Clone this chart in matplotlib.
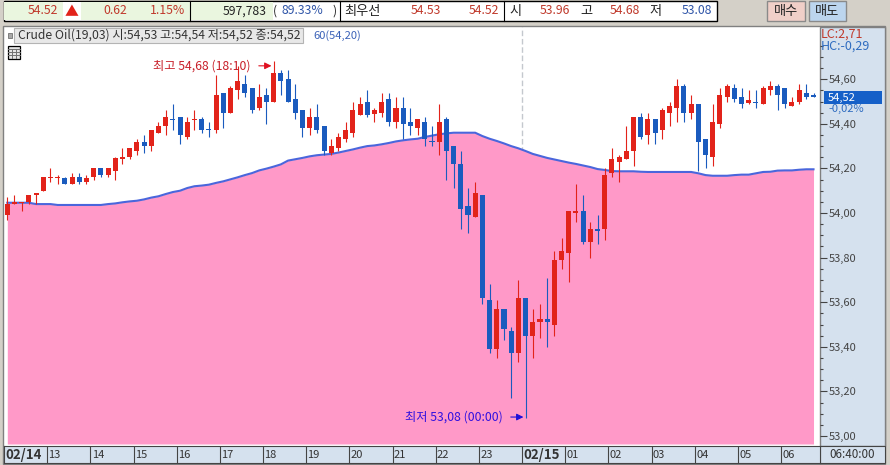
import matplotlib
matplotlib.use('Agg')
import matplotlib.pyplot as plt
from matplotlib.patches import Rectangle
import numpy as np

plt.rcParams['font.family'] = ['Noto Sans CJK KR', 'DejaVu Sans']
plt.rcParams['font.size'] = 8

opens = [53.99,54.04,54.045,54.05,54.08,54.10,54.155,54.155,54.155,54.13,54.16,54.14,54.16,54.20,54.17,54.19,54.24,54.25,54.28,54.32,
         54.30,54.36,54.39,54.42,54.43,54.34,54.415,54.42,54.375,54.37,54.54,54.45,54.55,54.58,54.56,54.47,54.53,54.50,54.63,54.60,
         54.51,54.46,54.38,54.43,54.39,54.27,54.29,54.33,54.36,54.44,54.50,54.445,54.45,54.51,54.41,54.47,54.41,54.38,54.41,54.325,
         54.32,54.42,54.30,54.22,54.03,53.98,54.08,53.61,53.39,53.57,53.47,53.37,53.62,53.45,53.51,53.525,53.50,53.79,53.82,54.00,
         54.01,53.87,53.93,53.93,54.18,54.23,54.24,54.28,54.43,54.35,54.42,54.37,54.45,54.47,54.57,54.45,54.49,54.33,54.25,54.40,
         54.52,54.56,54.52,54.495,54.50,54.49,54.55,54.57,54.56,54.48,54.50,54.54,54.53]
highs = [54.07,54.08,54.05,54.08,54.09,54.16,54.20,54.17,54.16,54.18,54.18,54.17,54.20,54.20,54.20,54.25,54.29,54.29,54.33,54.35,
         54.37,54.41,54.46,54.49,54.43,54.43,54.46,54.43,54.41,54.62,54.54,54.57,54.66,54.62,54.56,54.58,54.56,54.68,54.64,54.64,
         54.58,54.46,54.47,54.49,54.39,54.33,54.36,54.41,54.50,54.52,54.55,54.47,54.54,54.54,54.52,54.52,54.47,54.42,54.43,54.39,
         54.49,54.43,54.30,54.28,54.11,54.14,54.08,53.68,53.61,53.57,53.49,53.70,53.62,53.57,53.59,53.71,53.83,53.89,54.01,54.13,
         54.08,53.96,53.99,54.20,54.29,54.26,54.39,54.43,54.45,54.45,54.42,54.47,54.50,54.60,54.58,54.53,54.49,54.33,54.49,54.56,
         54.58,54.58,54.56,54.55,54.55,54.57,54.59,54.58,54.56,54.52,54.58,54.58,54.54]
lows = [53.97,54.04,54.01,54.04,54.04,54.10,54.14,54.13,54.13,54.13,54.13,54.13,54.15,54.16,54.16,54.15,54.22,54.24,54.26,54.27,
        54.28,54.36,54.35,54.37,54.31,54.33,54.37,54.36,54.34,54.36,54.38,54.45,54.51,54.52,54.45,54.46,54.40,54.50,54.53,54.50,
        54.42,54.34,54.35,54.36,54.26,54.26,54.28,54.32,54.34,54.44,54.43,54.41,54.43,54.39,54.38,54.33,54.35,54.35,54.30,54.30,
        54.26,54.15,54.11,53.93,53.91,53.98,53.59,53.37,53.35,53.43,53.17,53.33,53.08,53.35,53.44,53.40,53.45,53.75,53.69,53.96,
        53.86,53.80,53.86,53.88,54.16,54.14,54.24,54.21,54.33,54.31,54.31,54.33,54.39,54.41,54.41,54.42,54.19,54.20,54.21,54.38,
        54.50,54.50,54.47,54.49,54.47,54.49,54.53,54.46,54.47,54.48,54.49,54.51,54.52]
closes = [54.04,54.05,54.05,54.08,54.09,54.16,54.16,54.16,54.13,54.16,54.14,54.155,54.20,54.17,54.20,54.245,54.25,54.29,54.32,54.30,
          54.37,54.39,54.43,54.415,54.35,54.41,54.42,54.37,54.37,54.53,54.45,54.56,54.59,54.54,54.46,54.52,54.50,54.63,54.59,54.50,
          54.45,54.38,54.43,54.37,54.28,54.30,54.34,54.37,54.46,54.49,54.44,54.46,54.50,54.41,54.47,54.40,54.39,54.42,54.33,54.32,
          54.41,54.28,54.22,54.02,53.99,54.09,53.62,53.39,53.57,53.48,53.37,53.62,53.45,53.51,53.525,53.51,53.79,53.83,54.01,54.01,
          53.87,53.93,53.92,54.17,54.24,54.25,54.28,54.43,54.34,54.42,54.36,54.46,54.48,54.57,54.45,54.49,54.32,54.26,54.41,54.53,
          54.57,54.51,54.49,54.505,54.495,54.56,54.57,54.53,54.49,54.50,54.55,54.52,54.52]
ma60 = [54.046,54.046,54.046,54.046,54.040,54.040,54.040,54.036,54.036,54.036,54.036,54.036,54.036,54.036,54.040,54.043,54.048,54.052,54.055,54.061,
        54.069,54.075,54.085,54.094,54.100,54.112,54.120,54.123,54.127,54.135,54.142,54.151,54.160,54.170,54.179,54.191,54.199,54.208,54.218,54.235,
        54.241,54.247,54.254,54.259,54.262,54.265,54.271,54.278,54.285,54.293,54.300,54.303,54.308,54.314,54.321,54.326,54.330,54.333,54.341,54.347,
        54.353,54.357,54.360,54.360,54.360,54.360,54.345,54.333,54.323,54.312,54.300,54.290,54.278,54.265,54.256,54.247,54.240,54.233,54.226,54.220,
        54.213,54.206,54.197,54.193,54.188,54.187,54.187,54.187,54.185,54.184,54.184,54.184,54.184,54.184,54.184,54.184,54.178,54.170,54.167,54.167,
        54.167,54.170,54.172,54.172,54.178,54.184,54.185,54.190,54.191,54.191,54.194,54.196,54.196]

major_prices = [53.0,53.2,53.4,53.6,53.8,54.0,54.2,54.4,54.6]
minor_prices = [53.05,53.1,53.15,53.25,53.3,53.35,53.45,53.5,53.55,53.65,53.7,53.75,53.85,53.9,53.95,54.05,54.1,54.15,
                54.25,54.3,54.35,54.45,54.5,54.55,54.65,54.7,54.75]
major_labels = ['53,00','53,20','53,40','53,60','53,80','54,00','54,20','54,40','54,60']
hour_ticks = [-0.5,5.5,11.5,17.5,23.5,29.5,35.5,41.5,47.5,53.5,59.5,65.5,71.5,77.5,83.5,89.5,95.5,101.5,107.5]
hour_labels = ['02/14','13','14','15','16','17','18','19','20','21','22','23','02/15','01','02','03','04','05','06']

RED = '#E2231A'
BLUE = '#1A5BBE'
TXT_RED = '#C0392B'
TXT_BLUE = '#2F55A8'
PANEL = '#D5E1EE'
W, H = 890, 465

fig = plt.figure(figsize=(8.9, 4.65), dpi=100, facecolor='#D4D0C8')

# window chrome, drawn in pixel coordinates
bg = fig.add_axes([0, 0, 1, 1])
bg.set_xlim(0, W)
bg.set_ylim(H, 0)
bg.axis('off')

def box(x0, y0, x1, y1, fc, ec='none', lw=1.0, z=1):
    bg.add_patch(Rectangle((x0, y0), x1 - x0, y1 - y0, fc=fc, ec=ec, lw=lw, zorder=z))

def label(x, y, s, color='#222222', ha='right', size=8.8, **kw):
    bg.text(x, y, s, color=color, ha=ha, va='center', fontsize=size, zorder=5, **kw)

box(3.5, 1.5, 717, 21, 'white', 'black', 1.0, 1)
box(4, 2, 190, 20.5, '#EAF6DF', z=2)
box(63, 2, 81, 20.5, 'white', z=3)
box(190, 2, 273, 20.5, '#EAF6DF', z=2)
for xv in [190, 340, 504]:
    bg.plot([xv, xv], [1.5, 21], color='black', lw=0.8, zorder=4)
label(58, 11, '54.52', TXT_RED)
label(72, 12, '▲', RED, ha='center', size=10)
label(127, 11, '0.62', TXT_RED)
label(185, 11, '1.15%', TXT_RED)
label(267, 11, '597,783')
label(275, 11, '(', ha='center')
label(323, 11, '89.33%', TXT_BLUE)
label(335, 11, ')', ha='center')
label(344, 11, '최우선', ha='left', size=9.5)
label(441, 11, '54.53', TXT_RED)
label(499, 11, '54.52', TXT_RED)
label(515, 11, '시', ha='center', size=9.5)
label(570, 11, '53.96', TXT_RED)
label(586, 11, '고', ha='center', size=9.5)
label(640, 11, '54.68', TXT_RED)
label(656, 11, '저', ha='center', size=9.5)
label(712, 11, '53.08', TXT_BLUE)
box(767, 1.5, 805, 21, '#F0CFC8', '#8A8A8A')
box(809, 1.5, 846, 21, '#BCD5EE', '#8A8A8A')
label(786, 11, '매수', ha='center', size=9.5)
label(827.5, 11, '매도', ha='center', size=9.5)

box(3, 26, 885, 464, 'white', '#808080')
box(820, 27, 885, 446, PANEL, '#808080')

# price chart, x is candle index
x0_px, x1_px, y0_px, y1_px = 4, 820, 27, 444
ax = fig.add_axes([x0_px / W, 1 - y1_px / H, (x1_px - x0_px) / W, (y1_px - y0_px) / H])
ax.patch.set_alpha(0)
idx = np.arange(len(opens))
ax.set_xlim(-0.458, 112.9)
ax.set_ylim(53 + (436 - y1_px) / 223, 53 + (436 - y0_px) / 223)

ax.axvline(71.5, color='#C4C8CE', lw=1.0, ls=(0, (4, 2)), zorder=1)
ax.fill_between(idx, ma60, ax.get_ylim()[0], color='#FF99C8', lw=0, zorder=2)
ax.plot(idx, ma60, color='#4A66DC', lw=1.5, zorder=3)

o = np.array(opens)
c = np.array(closes)
colors = [RED if b > a else BLUE for a, b in zip(o, c)]
ax.vlines(idx, lows, highs, colors=colors, lw=0.8, zorder=4)
ax.bar(idx, np.abs(c - o), bottom=np.minimum(o, c), width=0.7, color=colors, lw=0, zorder=5)

ax.yaxis.tick_right()
ax.set_yticks(major_prices, major_labels)
ax.set_yticks(minor_prices, minor=True)
ax.tick_params(axis='y', which='major', length=5, width=0.8, color='#444444', labelcolor='#444444', labelsize=8, pad=1)
ax.tick_params(axis='y', which='minor', length=2, width=0.8, color='#444444')
ax.set_xticks([])
for side in ['top', 'bottom', 'left', 'right']:
    ax.spines[side].set_visible(False)

ax.annotate('최고 54,68 (18:10)', xy=(36.7, 54.66), xytext=(-21, 0), textcoords='offset pixels',
            ha='right', va='center', color='#C8202A', fontsize=8.8, zorder=6,
            arrowprops=dict(arrowstyle='-|>', color='#E01020', lw=0.8, shrinkA=4, shrinkB=0, mutation_scale=10))
ax.annotate('최저 53,08 (00:00)', xy=(71.7, 53.085), xytext=(-21, 0), textcoords='offset pixels',
            ha='right', va='center', color='#3010E0', fontsize=8.8, zorder=6,
            arrowprops=dict(arrowstyle='-|>', color='#2010D8', lw=0.8, shrinkA=4, shrinkB=0, mutation_scale=10))

# time bar under the chart
tb = fig.add_axes([x0_px / W, 1 - 463 / H, (x1_px - x0_px) / W, 17 / H])
tb.set_facecolor(PANEL)
tb.set_xlim(ax.get_xlim())
tb.set_ylim(0, 1)
tb.set_yticks([])
tb.set_xticks(hour_ticks)
tb.set_xticklabels([])
tb.tick_params(axis='x', length=0)
for tick, name in zip(hour_ticks, hour_labels):
    if tick > 0:
        tb.axvline(tick, color='#444444', lw=0.8)
    bold = '/' in name
    tb.text(tick + 0.18, 0.47, name, ha='left', va='center', color='#333333',
            fontsize=9.5 if bold else 8, fontweight='bold' if bold else 'normal')
for side in tb.spines.values():
    side.set_color('#444444')
    side.set_linewidth(0.8)
box(820, 446, 885, 463, PANEL, '#444444', 0.8, 3)
label(852.5, 454.5, '06:40:00', '#333333', ha='center', size=8.4)

# overlays on the chart
over = fig.add_axes([0, 0, 1, 1])
over.set_xlim(0, W)
over.set_ylim(H, 0)
over.axis('off')
bg = over

box(14, 28, 303, 43, '#E8E8E8', '#B4B4B4', 0.8, 1)
box(7.5, 33, 11.5, 38, '#A8A8A8', '#707070', 0.6, 1)
label(18, 35.5, 'Crude Oil(19,03) 시:54,53 고:54,54 저:54,52 종:54,52', '#333333', ha='left', size=8.75)
label(313, 35.5, '60(54,20)', '#3B62B8', ha='left', size=8)
box(7.5, 46.5, 20, 59, '#E4E4E4', 'black', 0.9, 1)
for gx in [11.5, 15.5]:
    over.plot([gx, gx], [49, 58], color='#707070', lw=0.7, zorder=2)
for gy in [49.5, 52.5, 55.5]:
    over.plot([8, 19.5], [gy, gy], color='#707070', lw=0.7, zorder=2)

label(821, 34, 'LC:2,71', '#C0392B', ha='left', size=9)
label(821, 46, 'HC:-0,29', '#2F6CC0', ha='left', size=9)
box(824, 91, 882, 104, '#1560C8', z=3)
label(828, 97.5, '54,52', 'white', ha='left', size=8)
label(828, 109, '-0,02%', '#2F6CC0', ha='left', size=8)

fig.savefig('out.png', dpi=100, facecolor=fig.get_facecolor())
